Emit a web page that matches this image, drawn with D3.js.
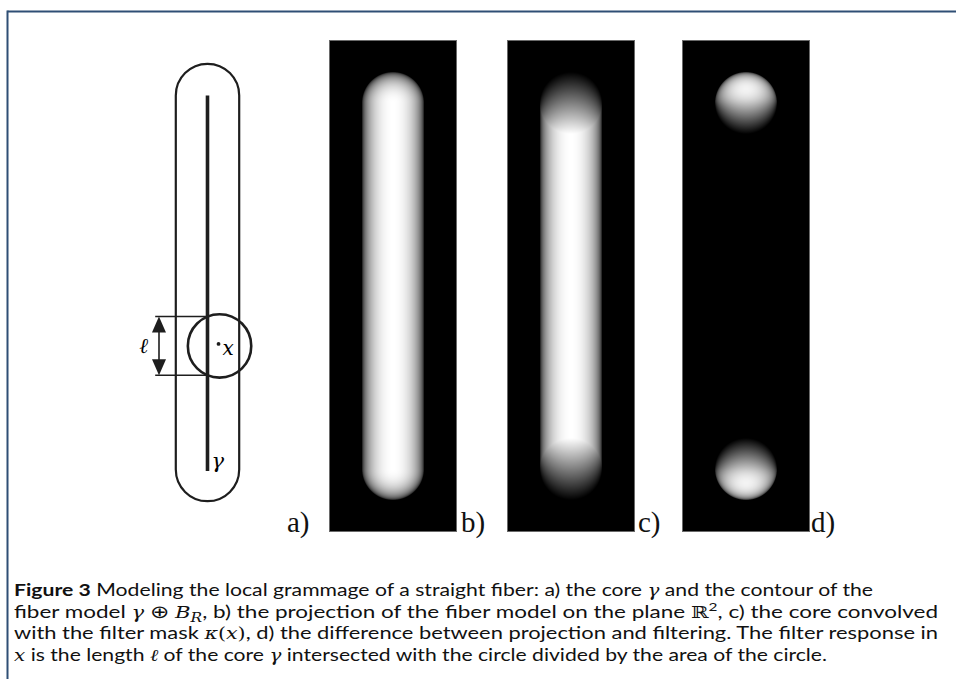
<!DOCTYPE html>
<html><head><meta charset="utf-8">
<script src="https://cdn.jsdelivr.net/npm/d3@7"></script>
<style>body{margin:0;background:#fff;overflow:hidden}</style></head>
<body><script>
// ---- data (model units: fibre radius = 1) ----
const panelLabels = ["a)", "b)", "c)", "d)"];
const panelKinds = ["sketch", "projection", "convolution", "difference"];
const coreExtent = [0, 11.8];          // core γ from start to end along the fibre
const fiberRadius = 1;                 // R of B_R
const filterRadius = 1;                // radius of the filter mask κ
const probePoint = [0.38, 7.9];        // the point x of the sketch
const captionLines = [
  [{t:"Figure 3", b:1}, {t:" Modeling the local grammage of a straight fiber: a) the core "}, {t:"γ", m:1}, {t:" and the contour of the"}],
  [{t:"fiber model "}, {t:"γ", m:1}, {t:" ⊕ "}, {t:"B", m:1}, {t:"R", m:1, sub:1}, {t:", b) the projection of the fiber model on the plane "}, {t:"ℝ", m:2}, {t:"2", sup:1}, {t:", c) the core convolved"}],
  [{t:"with the filter mask "}, {t:"κ", m:1}, {t:"(", m:2}, {t:"x", m:1}, {t:")", m:2}, {t:", d) the difference between projection and filtering. The filter response in"}],
  [{t:"x", m:1}, {t:" is the length "}, {t:"ℓ", m:1}, {t:" of the core "}, {t:"γ", m:1}, {t:" intersected with the circle divided by the area of the circle."}]
];

// ---- layout ----
const W = 956, H = 683;
const svg = d3.select("body").append("svg").attr("width", W).attr("height", H);

// frame
svg.append("line").attr("x1", 7.5).attr("x2", W).attr("y1", 11.5).attr("y2", 11.5)
  .attr("stroke", "#2f4f75").attr("stroke-width", 2);
svg.append("line").attr("x1", 7.5).attr("x2", 7.5).attr("y1", 10.5).attr("y2", 679)
  .attr("stroke", "#2f4f75").attr("stroke-width", 2);

// ---- panel a: sketch ----
const ax = d3.scaleLinear().domain([0, 1]).range([207.5, 207.5 + 31.7]);
const ay = d3.scaleLinear().domain(coreExtent).range([95.5, 469.5]);
const ink = "#1e1e1e";
const ga = svg.append("g");
const Rpx = ax(fiberRadius) - ax(0);
const outline = d3.path();
outline.moveTo(ax(-fiberRadius), ay(coreExtent[1]));
outline.lineTo(ax(-fiberRadius), ay(coreExtent[0]));
outline.arc(ax(0), ay(coreExtent[0]), Rpx, Math.PI, 0);
outline.lineTo(ax(fiberRadius), ay(coreExtent[1]));
outline.arc(ax(0), ay(coreExtent[1]), Rpx, 0, Math.PI);
ga.append("path").attr("d", outline.toString()).attr("fill", "none")
  .attr("stroke", ink).attr("stroke-width", 2.2);
ga.append("line").attr("x1", ax(0)).attr("x2", ax(0))
  .attr("y1", ay(coreExtent[0])).attr("y2", ay(coreExtent[1]) + 1.5)
  .attr("stroke", ink).attr("stroke-width", 3.6);
// filter circle
const fr = ax(filterRadius) - ax(0);
ga.append("circle").attr("cx", ax(probePoint[0])).attr("cy", ay(probePoint[1])).attr("r", fr)
  .attr("fill", "none").attr("stroke", ink).attr("stroke-width", 2.6);
ga.append("circle").attr("cx", ax(probePoint[0]) - 1).attr("cy", ay(probePoint[1]) - 2).attr("r", 1.9).attr("fill", ink);
ga.append("text").attr("x", ax(probePoint[0]) + 3).attr("y", ay(probePoint[1]) + 9)
  .attr("font-family", "DejaVu Serif, serif").attr("font-style", "italic").attr("font-size", 20).text("x");
// ℓ dimension
const dxp = ax(probePoint[0]) - ax(0);
const half = Math.sqrt(fr * fr - dxp * dxp);
const yTop = ay(probePoint[1]) - half, yBot = ay(probePoint[1]) + half;
[yTop, yBot].forEach(y => ga.append("line").attr("x1", ax(-1.65)).attr("x2", ax(0))
  .attr("y1", y).attr("y2", y).attr("stroke", ink).attr("stroke-width", 1.6));
const arX = ax(-1.53);
ga.append("line").attr("x1", arX).attr("x2", arX).attr("y1", yTop + 4).attr("y2", yBot - 4)
  .attr("stroke", ink).attr("stroke-width", 1.6);
ga.append("path").attr("d", `M${arX},${yTop}L${arX - 7},${yTop + 16}L${arX + 7},${yTop + 16}Z`).attr("fill", ink);
ga.append("path").attr("d", `M${arX},${yBot}L${arX - 7},${yBot - 16}L${arX + 7},${yBot - 16}Z`).attr("fill", ink);
ga.append("text").attr("x", ax(-2.15)).attr("y", (yTop + yBot) / 2 + 7)
  .attr("font-family", "DejaVu Serif, serif").attr("font-style", "italic").attr("font-size", 21).text("ℓ");
ga.append("text").attr("x", ax(0) + 4).attr("y", ay(coreExtent[1]) - 2)
  .attr("font-family", "DejaVu Serif, serif").attr("font-style", "italic").attr("font-size", 21).text("γ");

// ---- panels b, c, d: rendered images ----
const panelX = [null, 329, 507, 682];
const panelW = 128, panelTop = 40, panelH = 492;
const iy = d3.scaleLinear().domain(coreExtent).range([103, 469]);
const pxPerUnit = (iy(coreExtent[1]) - iy(coreExtent[0])) / (coreExtent[1] - coreExtent[0]);

function distToCore(mx, my) {
  const cy = Math.max(coreExtent[0], Math.min(coreExtent[1], my));
  return Math.hypot(mx, my - cy);
}
function projection(mx, my) {
  const d = distToCore(mx, my);
  return d >= fiberRadius ? 0 : Math.sqrt(fiberRadius * fiberRadius - d * d) / fiberRadius;
}
function convolution(mx, my) {
  if (Math.abs(mx) >= filterRadius) return 0;
  const h = Math.sqrt(filterRadius * filterRadius - mx * mx);
  const lo = Math.max(my - h, coreExtent[0]), hi = Math.min(my + h, coreExtent[1]);
  return Math.max(0, hi - lo) / (2 * filterRadius);
}
const fns = {
  projection,
  convolution,
  difference: (mx, my) => Math.max(0, projection(mx, my) - convolution(mx, my))
};

for (let k = 1; k < panelKinds.length; k++) {
  const kind = panelKinds[k];
  const x0 = panelX[k];
  const ix = d3.scaleLinear().domain([0, 1]).range([x0 + panelW / 2, x0 + panelW / 2 + pxPerUnit]);
  const cv = document.createElement("canvas");
  cv.width = panelW; cv.height = panelH;
  const ctx = cv.getContext("2d");
  const img = ctx.createImageData(panelW, panelH);
  const vals = new Float32Array(panelW * panelH);
  let mx = 0;
  const S = 3; // supersampling
  for (let j = 0; j < panelH; j++) for (let i = 0; i < panelW; i++) {
    let s = 0;
    for (let a = 0; a < S; a++) for (let b = 0; b < S; b++) {
      const X = ix.invert(x0 + i + (a + 0.5) / S), Y = iy.invert(panelTop + j + (b + 0.5) / S);
      s += fns[kind](X, Y);
    }
    s /= S * S;
    vals[j * panelW + i] = s;
    if (s > mx) mx = s;
  }
  const norm = kind === "difference" ? mx * 1.05 : 1.0;
  for (let p = 0; p < vals.length; p++) {
    const g = Math.round(255 * Math.min(1, vals[p] / norm));
    img.data[p * 4] = g; img.data[p * 4 + 1] = g; img.data[p * 4 + 2] = g; img.data[p * 4 + 3] = 255;
  }
  ctx.putImageData(img, 0, 0);
  svg.append("image").attr("x", x0).attr("y", panelTop).attr("width", panelW).attr("height", panelH)
    .attr("href", cv.toDataURL());
  svg.append("rect").attr("x", x0 + 0.5).attr("y", panelTop + 0.5).attr("width", panelW - 1).attr("height", panelH - 1)
    .attr("fill", "none").attr("stroke", "#6a6a6a").attr("stroke-width", 1);
}

// panel labels
const labelX = [287, 461, 638, 811];
panelLabels.forEach((l, i) => svg.append("text").attr("x", labelX[i]).attr("y", 532)
  .attr("font-family", "Liberation Serif, Times New Roman, serif").attr("font-size", 29).attr("fill", "#111").text(l));

// ---- caption ----
const capBase = [596, 617.5, 639, 660.5];
const capWidth = [859, 924, 924, 813];
captionLines.forEach((segs, li) => {
  const t = svg.append("text").attr("x", 14).attr("y", capBase[li])
    .attr("font-family", "Lato, Open Sans, sans-serif").attr("font-size", 17.5).attr("fill", "#111")
    .attr("textLength", capWidth[li]).attr("lengthAdjust", "spacingAndGlyphs");
  let shift = 0;
  segs.forEach(s => {
    const ts = t.append("tspan").text(s.t);
    let target = s.sub ? 4 : s.sup ? -7 : 0;
    if (target !== shift) { ts.attr("dy", target - shift); shift = target; }
    if (s.b) ts.attr("font-weight", "bold");
    if (s.m === 1) ts.attr("font-family", "DejaVu Serif, serif").attr("font-style", "italic").attr("font-size", 16.5);
    if (s.m === 2) ts.attr("font-family", "DejaVu Serif, serif").attr("font-size", 16.5);
    if (s.sub || s.sup) ts.attr("font-size", 12);
  });
});
</script></body></html>
